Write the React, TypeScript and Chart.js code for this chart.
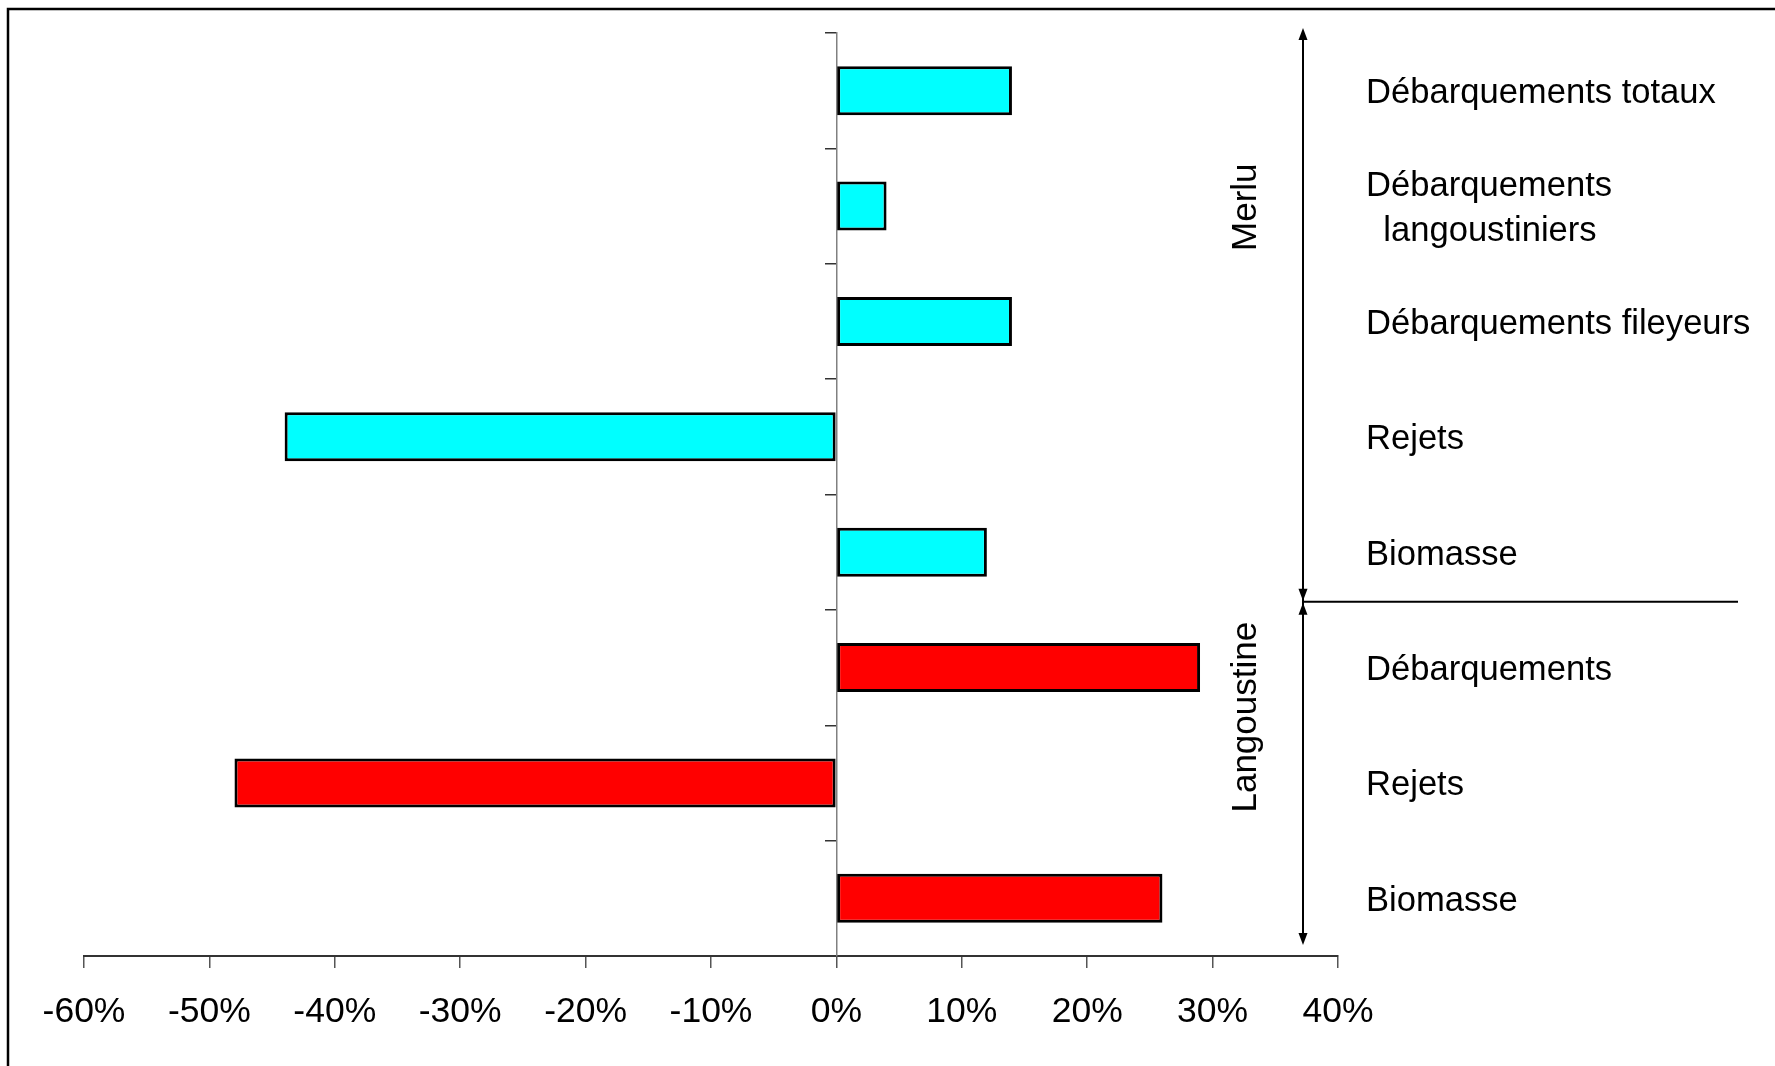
import React, { useEffect, useRef } from "react";
import { Chart, registerables } from "chart.js";

Chart.register(...registerables);

// ---- data ----
const categories: (string | string[])[] = [
  "Débarquements totaux",
  ["Débarquements", "\u2002langoustiniers"],
  "Débarquements fileyeurs",
  "Rejets",
  "Biomasse",
  "Débarquements",
  "Rejets",
  "Biomasse",
];
const values = [14, 4, 14, -44, 12, 29, -48, 26];
const species = ["Merlu", "Merlu", "Merlu", "Merlu", "Merlu", "Langoustine", "Langoustine", "Langoustine"];
const groupLabels = ["Merlu", "Langoustine"];
const speciesColors: Record<string, string> = { Merlu: "#00FFFF", Langoustine: "#FF0000" };
const xMin = -60;
const xMax = 40;
const xStep = 10;

const FONT = "'Liberation Sans', Arial, Helvetica, sans-serif";

const annotationPlugin = {
  id: "annotations",
  afterDraw(chart: any) {
    const { ctx, chartArea } = chart;
    const yScale = chart.scales.y;
    ctx.save();
    // outer frame (top and left edges)
    ctx.strokeStyle = "#000";
    ctx.lineWidth = 2.5;
    ctx.beginPath();
    ctx.moveTo(8, 1066);
    ctx.lineTo(8, 9);
    ctx.lineTo(1775, 9);
    ctx.stroke();

    const ax = chartArea.right - 35;
    const topY = chartArea.top - 5;
    const midY = yScale.getPixelForValue(4.43);
    const botY = chartArea.bottom - 11;

    ctx.lineWidth = 2;
    ctx.beginPath();
    ctx.moveTo(ax, topY + 6);
    ctx.lineTo(ax, botY - 6);
    ctx.stroke();
    // horizontal separator
    ctx.beginPath();
    ctx.moveTo(ax, midY);
    ctx.lineTo(1738, midY);
    ctx.stroke();

    const head = (tipY: number, dir: number) => {
      ctx.beginPath();
      ctx.moveTo(ax, tipY);
      ctx.lineTo(ax - 4.5, tipY + dir * 12);
      ctx.lineTo(ax + 4.5, tipY + dir * 12);
      ctx.closePath();
      ctx.fillStyle = "#000";
      ctx.fill();
    };
    head(topY, 1);
    head(midY - 1, -1);
    head(midY + 1, 1);
    head(botY, -1);

    // group labels (rotated)
    ctx.font = `35px ${FONT}`;
    ctx.fillStyle = "#000";
    ctx.textAlign = "center";
    ctx.textBaseline = "middle";
    const labelX = ax - 57;
    const groupPos = [yScale.getPixelForValue(1.01), yScale.getPixelForValue(5.43)];
    groupLabels.forEach((g, i) => {
      ctx.save();
      ctx.translate(labelX, groupPos[i]);
      ctx.rotate(-Math.PI / 2);
      ctx.fillText(g, 0, 0);
      ctx.restore();
    });
    ctx.restore();
  },
};

export default function App() {
  const canvasRef = useRef<HTMLCanvasElement | null>(null);

  useEffect(() => {
    document.body.style.margin = "0";
    const canvas = canvasRef.current;
    if (!canvas) return;
    const chart = new Chart(canvas, {
      type: "bar",
      data: {
        labels: categories as any,
        datasets: [
          {
            data: values,
            backgroundColor: species.map((s) => speciesColors[s]),
            borderColor: "#000",
            borderWidth: 3,
            borderSkipped: false,
            categoryPercentage: 0.8,
            barPercentage: 0.53,
          },
        ],
      },
      options: {
        indexAxis: "y",
        responsive: false,
        animation: false,
        devicePixelRatio: 1,
        layout: { padding: { left: 84, top: 33, right: 0, bottom: 0 } },
        plugins: {
          legend: { display: false },
          tooltip: { enabled: false },
          title: { display: false },
        },
        scales: {
          x: {
            type: "linear",
            position: "bottom",
            min: xMin,
            max: xMax,
            ticks: {
              stepSize: xStep,
              callback: (v: any) => `${v}%`,
              font: { family: FONT, size: 35.5 },
              color: "#000",
              padding: 23,
              maxRotation: 0,
              autoSkip: false,
            },
            grid: {
              drawOnChartArea: false,
              drawTicks: true,
              tickLength: 12,
              color: "#555",
              lineWidth: 1.5,
            },
            border: { display: true, color: "#333", width: 2 },
            afterFit: (scale: any) => {
              scale.height = 110;
            },
          },
          y: {
            type: "category",
            position: { x: 0 } as any,
            offset: true,
            ticks: { display: false },
            grid: {
              offset: true,
              drawOnChartArea: false,
              drawTicks: true,
              tickLength: 11,
              color: "#333",
              lineWidth: 1.5,
            },
            border: { display: true, color: "#808080", width: 1.5 },
          },
          y2: {
            type: "category",
            position: "right",
            offset: true,
            ticks: {
              font: { family: FONT, size: 34.6, lineHeight: 1.3 },
              color: "#000",
              padding: 28,
              labelOffset: 3,
              autoSkip: false,
            },
            grid: { display: false, drawTicks: false },
            border: { display: false },
            afterFit: (scale: any) => {
              scale.width = 437;
              scale.paddingTop = 0;
              scale.paddingBottom = 0;
            },
          },
        },
      } as any,
      plugins: [annotationPlugin],
    });
    return () => chart.destroy();
  }, []);

  return (
    <canvas
      ref={canvasRef}
      width={1775}
      height={1066}
      style={{ display: "block", width: "1775px", height: "1066px" }}
    />
  );
}
